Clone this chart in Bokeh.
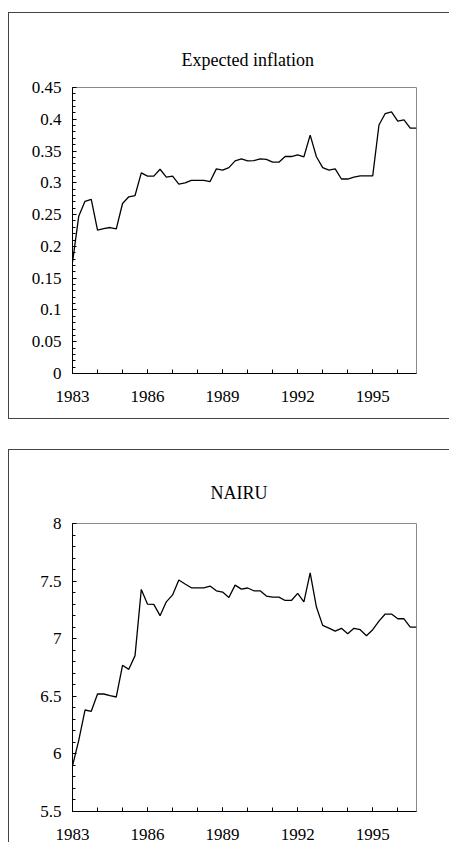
from bokeh.plotting import figure
from bokeh.layouts import column, row
from bokeh.models import Range1d, FixedTicker, CustomJSTickFormatter, Title, Spacer
from bokeh.embed import file_html
from bokeh.resources import INLINE

start_year = 1983
n_quarters = 56

expected_inflation = [
    0.175, 0.2475, 0.271, 0.274, 0.2255, 0.228, 0.2297, 0.2276, 0.2675, 0.278,
    0.280, 0.3157, 0.3105, 0.3105, 0.3214, 0.309, 0.3105, 0.298, 0.300, 0.304,
    0.304, 0.304, 0.302, 0.322, 0.320, 0.324, 0.3346, 0.3377, 0.3346, 0.335,
    0.3377, 0.337, 0.3325, 0.3325, 0.3414, 0.3414, 0.344, 0.341, 0.375, 0.341,
    0.324, 0.320, 0.322, 0.306, 0.306, 0.309, 0.311, 0.311, 0.311, 0.391,
    0.409, 0.4116, 0.397, 0.399, 0.386, 0.386,
]
nairu = [
    5.896, 6.118, 6.381, 6.370, 6.520, 6.520, 6.506, 6.494, 6.769, 6.734,
    6.853, 7.428, 7.30, 7.298, 7.20, 7.32, 7.38, 7.51, 7.475, 7.442,
    7.442, 7.442, 7.457, 7.416, 7.405, 7.358, 7.465, 7.43, 7.44, 7.416,
    7.416, 7.37, 7.361, 7.361, 7.332, 7.332, 7.393, 7.32, 7.572, 7.275,
    7.116, 7.092, 7.066, 7.09, 7.043, 7.09, 7.078, 7.026, 7.078, 7.153,
    7.214, 7.214, 7.173, 7.173, 7.101, 7.101,
]
x_labels = [1983, 1986, 1989, 1992, 1995]
x_minor = list(range(1983, 1997))
ei_ticks = [0, 0.05, 0.1, 0.15, 0.2, 0.25, 0.3, 0.35, 0.4, 0.45]
ei_minor = [k / 100 for k in range(0, 46)]
nairu_ticks = [5.5, 6, 6.5, 7, 7.5, 8]
nairu_minor = [k / 10 for k in range(55, 81)]

quarters = [start_year + i / 4 for i in range(n_quarters)]

FONT = "Liberation Serif"
fmt = CustomJSTickFormatter(code="return String(Math.round(tick*100)/100)")


def make_panel(title, values, yr, yticks, yminor, w, h, ml, mr, mt, mb,
               title_offset, title_standoff):
    p = figure(width=w, height=h, output_backend="svg", toolbar_location=None,
               x_range=Range1d(start_year, start_year + (n_quarters - 1) / 4),
               y_range=Range1d(*yr),
               min_border_left=ml, min_border_right=mr,
               min_border_top=mt, min_border_bottom=mb)
    t = Title(text=title, align="left", offset=title_offset,
              text_font=FONT, text_font_size="18px", text_font_style="normal",
              text_color="black", standoff=title_standoff)
    p.add_layout(t, "above")
    p.line(quarters, values, line_color="black", line_width=1.3)
    p.grid.visible = False
    p.outline_line_color = "#8a8a8a"
    p.outline_line_width = 1
    p.background_fill_color = "white"
    p.border_fill_color = "white"

    p.xaxis.ticker = FixedTicker(ticks=x_labels, minor_ticks=x_minor)
    p.yaxis.ticker = FixedTicker(ticks=yticks, minor_ticks=yminor)
    p.yaxis.formatter = fmt
    for ax in (p.xaxis[0], p.yaxis[0]):
        ax.axis_line_color = "black"
        ax.axis_line_width = 1
        ax.major_tick_line_color = "black"
        ax.minor_tick_line_color = "black"
        ax.major_tick_out = 0
        ax.minor_tick_out = 0
        ax.major_label_text_font = FONT
        ax.major_label_text_font_size = "17px"
        ax.major_label_text_color = "black"
    p.xaxis.major_tick_in = 4
    p.xaxis.minor_tick_in = 4
    p.yaxis.major_tick_in = 4
    p.yaxis.minor_tick_in = 3
    p.xaxis.major_label_standoff = 17
    p.yaxis.major_label_standoff = 11
    return p


W = 440
p1 = make_panel("Expected inflation", expected_inflation, (0, 0.45),
                ei_ticks, ei_minor, W, 405, 63, 33, 74, 45, 109, 35)
p2 = make_panel("NAIRU", nairu, (5.5, 8),
                nairu_ticks, nairu_minor, W, 392, 55, 33, 73, 30, 138, 42)

BC = {"background-color": "#444444"}


def hline():
    return Spacer(width=W, height=1, styles=BC)


left_col = column(Spacer(width=1, height=12),
                  Spacer(width=1, height=407, styles=BC),
                  Spacer(width=1, height=30),
                  Spacer(width=1, height=393, styles=BC),
                  spacing=0)
right_col = column(Spacer(width=W, height=12), hline(), p1, hline(),
                   Spacer(width=W, height=30), hline(), p2, spacing=0)
layout = row(Spacer(width=8, height=10), left_col, right_col, spacing=0)
open("out.html", "w").write(file_html(layout, INLINE))
